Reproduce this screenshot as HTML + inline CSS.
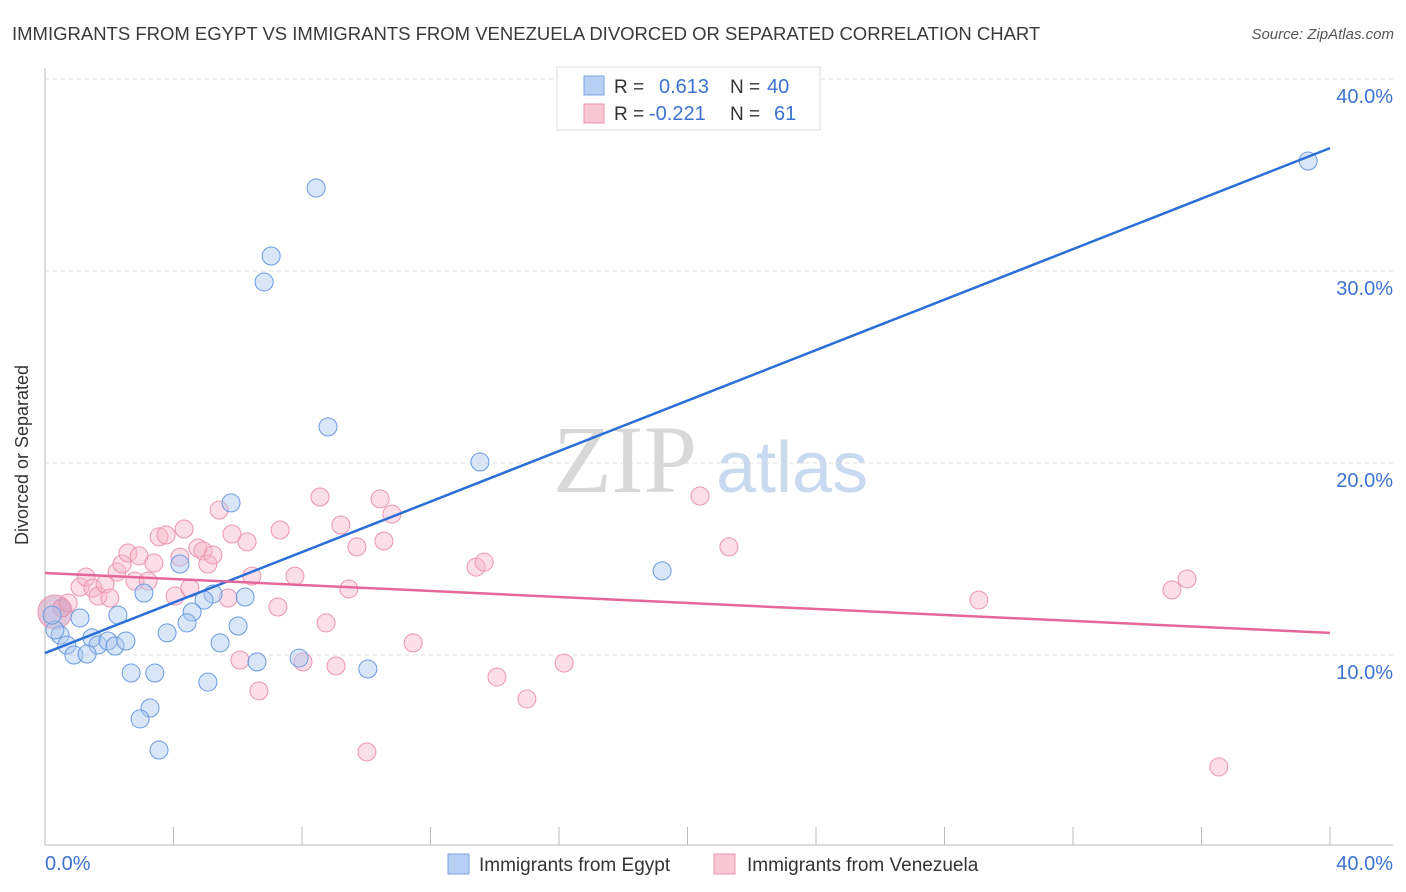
<!DOCTYPE html>
<html><head><meta charset="utf-8"><style>
body{margin:0;background:#fff;font-family:"Liberation Sans",sans-serif}
svg{display:block}
</style></head><body>
<svg id="c" width="1406" height="892" xmlns="http://www.w3.org/2000/svg">
<text x="12" y="40" font-size="18.5" fill="#3a3a3a">IMMIGRANTS FROM EGYPT VS IMMIGRANTS FROM VENEZUELA DIVORCED OR SEPARATED CORRELATION CHART</text>
<text x="1394" y="39" font-size="15" fill="#555" font-style="italic" text-anchor="end">Source: ZipAtlas.com</text>
<g><text x="553" y="492" font-size="96" fill="#d8d8d8" font-family="Liberation Serif,serif">ZIP</text><text x="716" y="492" font-size="72" fill="#c9daf0">atlas</text></g>
<g id="grid"></g>
<g id="axes"></g>
<g id="pts"></g>
<g id="lines"></g>
<text x="28" y="455" font-size="18" fill="#333" text-anchor="middle" transform="rotate(-90 28 455)">Divorced or Separated</text>
<g>
<rect x="557" y="67" width="263" height="63" fill="#fff" stroke="#ddd"/>
<rect x="584" y="76" width="20" height="19" fill="#b8d0f4" stroke="#7aa6e6"/>
<rect x="584" y="104" width="20" height="19" fill="#f9c6d4" stroke="#ec95b0"/>
<text x="614" y="93" font-size="19" fill="#333">R =</text><text x="659" y="93" font-size="20" fill="#3d73d0">0.613</text>
<text x="730" y="93" font-size="19" fill="#333">N =</text><text x="767" y="93" font-size="20" fill="#3d73d0">40</text>
<text x="614" y="120" font-size="19" fill="#333">R =</text><text x="649" y="120" font-size="20" fill="#3d73d0">-0.221</text>
<text x="730" y="120" font-size="19" fill="#333">N =</text><text x="774" y="120" font-size="20" fill="#3d73d0">61</text>
</g>
<g>
<rect x="448" y="854" width="21" height="20" fill="#b8d0f4" stroke="#7aa6e6"/>
<text x="479" y="871" font-size="19" fill="#333">Immigrants from Egypt</text>
<rect x="714" y="854" width="21" height="20" fill="#f9c6d4" stroke="#ec95b0"/>
<text x="747" y="871" font-size="19" fill="#333">Immigrants from Venezuela</text>
</g>
</svg>
<script>
const egyptX=[8.44,7.04,6.82,8.81,13.54,39.32,19.21,5.79,4.20,3.08,6.23,5.23,4.95,4.58,4.42,3.80,6.01,5.45,2.27,1.09,0.47,0.31,0.68,1.46,1.65,1.96,2.18,2.52,0.90,1.31,6.60,7.91,10.05,2.68,3.42,5.07,3.27,2.96,3.55,0.22];
const egyptY=[34.32,30.78,29.43,21.88,20.05,35.73,14.38,17.92,14.74,13.23,13.02,13.18,12.86,12.24,11.67,11.15,11.51,10.63,12.08,11.93,11.04,11.30,10.52,10.89,10.52,10.73,10.47,10.73,10.0,10.05,9.64,9.84,9.27,9.06,9.06,8.59,7.24,6.67,5.05,12.08];
const venX=[0.53,0.72,1.09,1.28,1.49,1.65,1.87,2.02,2.24,2.40,2.58,2.80,2.93,3.21,3.39,3.55,3.77,4.05,4.20,4.33,4.51,4.76,4.92,5.07,5.23,5.42,5.70,5.82,6.29,6.44,6.07,6.66,7.25,7.32,7.78,8.56,8.75,9.21,9.06,9.46,9.71,10.02,10.43,10.55,10.80,11.46,13.42,13.67,14.07,15.00,16.16,20.39,21.29,29.07,35.08,35.55,36.54,8.03,0.31];
const venY=[12.45,12.71,13.54,14.06,13.49,13.07,13.70,12.97,14.32,14.74,15.31,13.85,15.16,13.85,14.79,16.15,16.25,13.07,15.10,16.56,13.49,15.57,15.42,14.74,15.21,17.55,12.97,16.30,15.89,14.11,9.74,8.13,12.50,16.51,14.11,18.23,11.67,16.77,9.43,13.44,15.63,4.95,18.13,15.94,17.34,10.63,14.58,14.84,8.85,7.71,9.58,18.28,15.63,12.86,13.39,13.96,4.17,9.64,12.24];
const egyptTrend=[10.1,36.4];
const venTrend=[14.27,11.15];
const yTicks=[10,20,30,40];
const yTickLabels=["10.0%","20.0%","30.0%","40.0%"];
const xTickLabels=["0.0%","40.0%"];
const NS="http://www.w3.org/2000/svg";
const sx=v=>45+v*32.125, sy=v=>847-v*19.2;
function mk(tag,attrs,parent){const e=document.createElementNS(NS,tag);for(const k in attrs)e.setAttribute(k,attrs[k]);document.getElementById(parent).appendChild(e);return e;}
yTicks.forEach((t,i)=>{
 const l=mk('line',{x1:45,x2:1393,y1:sy(t),y2:sy(t),stroke:'#ddd','stroke-dasharray':'4,4'},'grid');
 
 
 const tx=mk('text',{x:1393,y:sy(t)+24,'font-size':20,fill:'#3d73d0','text-anchor':'end'},'grid');
 tx.textContent=yTickLabels[i];
 
 
});
let a=mk('line',{x1:45,x2:45,y1:68,y2:845,stroke:'#bbb'},'axes');


a=mk('line',{x1:45,x2:1393,y1:845,y2:845,stroke:'#bbb'},'axes');


for(let i=1;i<=10;i++){const t=mk('line',{x1:sx(i*4),x2:sx(i*4),y1:827,y2:845,stroke:'#bbb'},'axes');
 
 }
[[0,'start'],[40,'end']].forEach((p,i)=>{const t=mk('text',{x:i?1393:45,y:870,'font-size':20,fill:'#3d73d0','text-anchor':p[1]},'axes');t.textContent=xTickLabels[i];
 
 });
venX.forEach((x,i)=>{const c=mk('circle',{cx:sx(x),cy:sy(venY[i]),r:i==venX.length-1?17:9,fill:i==venX.length-1?'rgba(200,140,180,0.5)':'rgba(246,182,202,0.45)',stroke:'#ec95b0','stroke-width':1},'pts');
 
 });
egyptX.forEach((x,i)=>{const c=mk('circle',{cx:sx(x),cy:sy(egyptY[i]),r:9,fill:'rgba(170,200,240,0.45)',stroke:'#6a9be0','stroke-width':1},'pts');
 
 });
let L=mk('line',{x1:sx(0),y1:sy(egyptTrend[0]),x2:sx(40),y2:sy(egyptTrend[1]),stroke:'#2a6fd6','stroke-width':2.5},'lines');


L=mk('line',{x1:sx(0),y1:sy(venTrend[0]),x2:sx(40),y2:sy(venTrend[1]),stroke:'#e5679a','stroke-width':2.5},'lines');


</script>
</body></html>
